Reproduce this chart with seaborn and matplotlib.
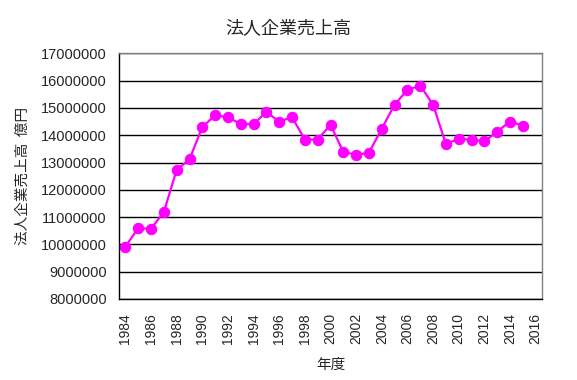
import matplotlib
matplotlib.use("Agg")
import matplotlib.pyplot as plt
import seaborn as sns
import pandas as pd
from matplotlib.ticker import FixedLocator

years = list(range(1984, 2016))
sales = [9920000, 10600000, 10570000, 11190000, 12730000, 13120000, 14300000, 14730000,
         14660000, 14410000, 14410000, 14850000, 14500000, 14660000, 13840000, 13840000,
         14380000, 13390000, 13280000, 13360000, 14240000, 15120000, 15660000, 15820000,
         15120000, 13680000, 13860000, 13840000, 13770000, 14130000, 14500000, 14350000]
title = "法人企業売上高"
xlabel = "年度"
ylabel = "法人企業売上高  億円"
xtick_years = list(range(1984, 2017, 2))
yticks = list(range(8000000, 17000001, 1000000))

df = pd.DataFrame({"year": years, "sales": sales})

sns.set_style("white")
plt.rcParams["font.family"] = ["Noto Sans CJK JP", "DejaVu Sans"]

fig = plt.figure(figsize=(5.77, 3.80), dpi=100)
ax = fig.add_axes([119/577, 1 - 299/380, 423/577, (299 - 53.3)/380])

sns.lineplot(data=df, x="year", y="sales", ax=ax, color="#FF00FF", linewidth=1.6,
             marker="o", markersize=7.5, markeredgecolor="#FF00FF", markerfacecolor="#FF00FF")

ax.set_xlim(1983.5, 2016.5)
ax.set_ylim(8000000, 17000000)
ax.set_yticks(yticks)
ax.set_yticklabels([str(v) for v in yticks], fontsize=10.5, family=["Liberation Sans"])
ax.set_xticks(xtick_years)
ax.set_xticklabels([str(v) for v in xtick_years], rotation=90, fontsize=10, family=["Liberation Sans"])
ax.xaxis.set_minor_locator(FixedLocator([y + 0.5 for y in range(1983, 2017)]))
ax.tick_params(axis="x", which="major", length=0, pad=10)
ax.tick_params(axis="x", which="minor", direction="in", length=4, width=1, color="black")
ax.tick_params(axis="y", which="major", length=0, pad=9)

ax.grid(axis="y", color="black", linewidth=1)
ax.grid(axis="x", visible=False)
ax.set_axisbelow(True)

for s in ["left", "bottom"]:
    ax.spines[s].set_color("black")
    ax.spines[s].set_linewidth(1)
for s in ["top", "right"]:
    ax.spines[s].set_color("#808080")
    ax.spines[s].set_linewidth(1)
    ax.spines[s].set_visible(True)

ax.set_xlabel(xlabel, fontsize=10.5)
ax.xaxis.set_label_coords(0.5, -(358 - 299) / 246)
ax.set_ylabel(ylabel, fontsize=10.5)
ax.yaxis.set_label_coords(-(119 - 30) / 423, 0.5)

fig.text(288/577, 1 - 28/380, title, ha="center", va="center", fontsize=13)

fig.savefig("out.png", dpi=100, facecolor="white")
